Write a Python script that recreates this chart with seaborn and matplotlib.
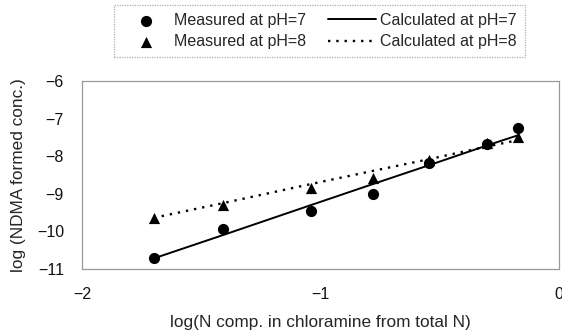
import matplotlib
matplotlib.use("Agg")
import matplotlib.pyplot as plt
import seaborn as sns
import pandas as pd

# Data
x_vals = [-1.70, -1.41, -1.04, -0.78, -0.545, -0.30, -0.17]
meas_ph7 = [-10.72, -9.94, -9.46, -9.00, -8.17, -7.68, -7.26]
meas_ph8 = [-9.64, -9.30, -8.85, -8.59, -8.10, -7.65, -7.50]
calc_ph7 = [-10.72, -10.10, -9.30, -8.74, -8.24, -7.71, -7.44]
calc_ph8 = [-9.64, -9.25, -8.74, -8.39, -8.08, -7.74, -7.57]
x_ticks = [-2, -1, 0]
y_ticks = [-11, -10, -9, -8, -7, -6]
labels = ["Measured at pH=7", "Measured at pH=8",
          "Calculated at pH=7", "Calculated at pH=8"]

sns.set_style("white")
plt.rcParams['font.family'] = ['Liberation Sans', 'DejaVu Sans']

df = pd.DataFrame({"x": x_vals, "m7": meas_ph7, "m8": meas_ph8,
                   "c7": calc_ph7, "c8": calc_ph8})

fig = plt.figure(figsize=(5.62, 3.36), dpi=100)
ax = fig.add_axes([82/562, 1-269/336, (559-82)/562, (269-81)/336])

sns.lineplot(data=df, x="x", y="c7", ax=ax, color="black", linewidth=1.4,
             label=labels[2], legend=False)
sns.lineplot(data=df, x="x", y="c8", ax=ax, color="black", linewidth=1.7,
             linestyle=(0, (1, 2.5)), label=labels[3], legend=False)
sns.scatterplot(data=df, x="x", y="m7", ax=ax, color="black", marker="o",
                s=65, edgecolor="black", linewidth=0, label=labels[0],
                legend=False, zorder=3)
sns.scatterplot(data=df, x="x", y="m8", ax=ax, color="black", marker="^",
                s=65, edgecolor="black", linewidth=0, label=labels[1],
                legend=False, zorder=3)

ax.set_xlim(-2, 0)
ax.set_ylim(-11, -6)
ax.set_xticks(x_ticks)
ax.set_yticks(y_ticks)
ax.set_xticklabels(["\u22122", "\u22121", "0"])
ax.set_yticklabels(["\u221211", "\u221210", "\u22129", "\u22128", "\u22127", "\u22126"])
ax.tick_params(axis="both", length=0, labelsize=11.5, colors="#111111")
ax.tick_params(axis="x", pad=13)
ax.tick_params(axis="y", pad=13)
ax.set_xlabel("log(N comp. in chloramine from total N)", fontsize=12.4, labelpad=9)
ax.set_ylabel("log (NDMA formed conc.)", fontsize=12.4, labelpad=8)
for sp in ax.spines.values():
    sp.set_visible(True)
    sp.set_color("#999999")
    sp.set_linewidth(0.9)
    sp.set_linestyle((0, (1, 1)))

h, l = ax.get_legend_handles_labels()
order = [l.index(lbl) for lbl in labels]
leg = fig.legend([h[i] for i in order], [l[i] for i in order], ncol=2,
                 loc="center", bbox_to_anchor=(319.5/562, 1-31/336),
                 fontsize=11.5, frameon=True, fancybox=False,
                 handlelength=3.0, handletextpad=0.25, columnspacing=1.4,
                 labelspacing=0.4, borderpad=0.5, markerscale=1.0)
fr = leg.get_frame()
fr.set_edgecolor("#999999")
fr.set_linestyle((0, (1, 1)))
fr.set_linewidth(0.9)

fig.savefig("out.png", dpi=100)
